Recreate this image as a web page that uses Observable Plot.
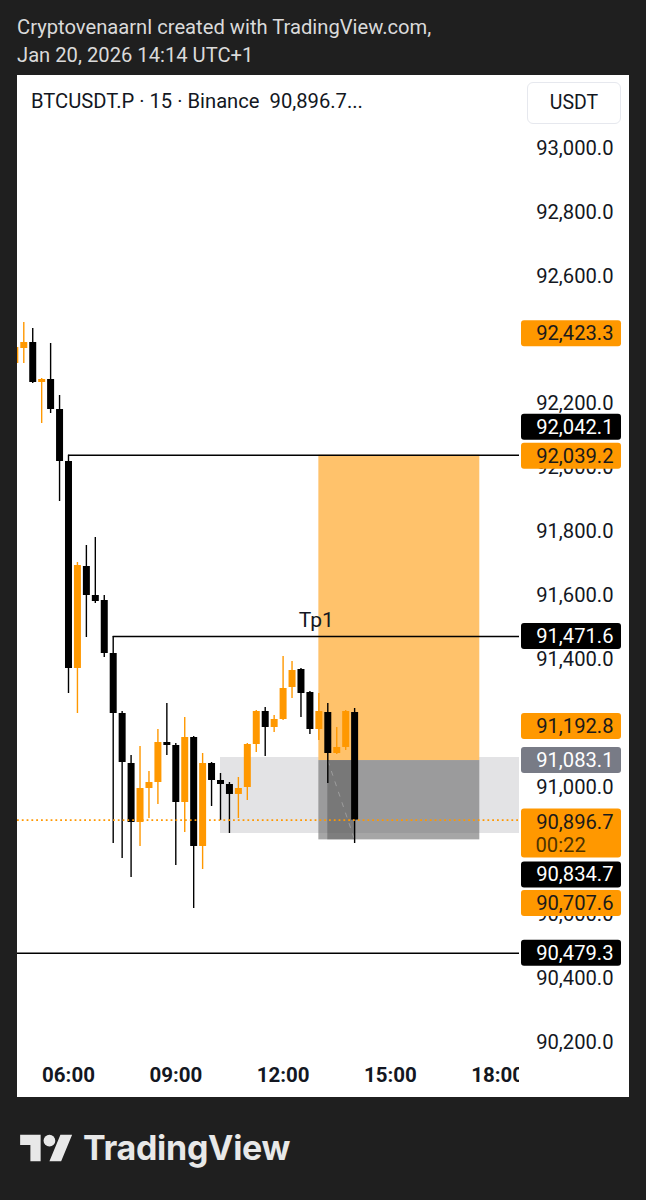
<!DOCTYPE html>
<html><head><meta charset="utf-8">
<script src="https://cdn.jsdelivr.net/npm/d3@7"></script>
<script src="https://cdn.jsdelivr.net/npm/@observablehq/plot@0.6"></script>
<style>
html,body{margin:0;padding:0;background:#1f1f1f;}
body{width:646px;height:1200px;position:relative;overflow:hidden;font-family:Roboto,"Noto Sans",sans-serif;}
#credit{position:absolute;left:17px;top:13px;color:#dadada;font-size:20.2px;line-height:28px;}
#panel{position:absolute;left:17px;top:75px;width:612px;height:1022px;background:#fff;}
#chart{position:absolute;left:0;top:0;width:502px;height:1022px;overflow:hidden;}
#scale{position:absolute;left:502px;top:0;width:110px;height:1022px;overflow:hidden;}
#legend{position:absolute;left:14px;top:13px;font-size:20.2px;color:#131722;white-space:pre;line-height:26px;}
#unit{position:absolute;left:510px;top:7px;width:92px;height:40px;border:1px solid #e6e8ee;border-radius:6px;background:#fff;font-size:19.5px;color:#131722;text-align:center;line-height:40px;}
#brand{position:absolute;left:20px;top:1129px;height:41px;}
#brandText{position:absolute;left:83px;top:1127px;font-family:Inter,Roboto,sans-serif;font-weight:700;font-size:34px;color:#e8e8e8;letter-spacing:-0.3px;line-height:42px;}
</style></head>
<body>
<div id="credit">Cryptovenaarnl created with TradingView.com,<br>Jan 20, 2026 14:14 UTC+1</div>
<div id="panel">
  <div id="chart"></div>
  <div id="scale"></div>
  <div id="legend">BTCUSDT.P · 15 · Binance  90,896.7...</div>
  <div id="unit">USDT</div>
</div>
<svg id="brand" width="53" height="41" viewBox="0 0 36 28"><g fill="#e8e8e8"><path d="M14 22H7V11H0V4h14v18zM28 22h-8l7.5-18h8L28 22z"/><circle cx="20" cy="8" r="4"/></g></svg>
<div id="brandText">TradingView</div>
<script>
// ---- data (15-minute candles, Jan 20 2026, UTC+1 clock) ----
const times = ["04:30","04:45","05:00","05:15","05:30","05:45","06:00","06:15","06:30","06:45","07:00","07:15","07:30","07:45","08:00","08:15","08:30","08:45","09:00","09:15","09:30","09:45","10:00","10:15","10:30","10:45","11:00","11:15","11:30","11:45","12:00","12:15","12:30","12:45","13:00","13:15","13:30","13:45","14:00"];
const open  = [92326.7,92373.6,92392.4,92267.2,92276.6,92182.6,92019.7,91371.5,91690.9,91600.1,91584.4,91418.4,91230.5,91073.9,90889.2,90995.6,91014.4,91139.7,91130.3,90951.8,91155.4,90814.0,91073.9,91020.7,91008.2,90976.9,90998.8,91133.4,91236.8,91186.7,91211.7,91311.9,91368.3,91296.3,91180.4,91233.7,91105.3,91124.1,91233.7];
const high  = [92398.7,92455.1,92436.3,92279.7,92389.3,92226.4,92039.2,91703.4,91756.7,91781.7,91600.1,91471.6,91236.8,91099.0,91127.2,91048.9,91180.4,91261.9,91136.6,91218.0,91158.5,91105.3,91077.1,91042.6,91014.4,91030.1,91136.6,91239.9,91249.4,91224.3,91409.0,91393.4,91371.5,91299.4,91293.2,91261.9,91186.7,91239.9,91246.2];
const low   = [92317.3,92326.7,92264.0,92138.8,92170.1,91894.5,91293.2,91230.5,91468.5,91575.0,91405.9,90823.4,90776.4,90716.9,90814.0,90901.7,90945.5,91099.0,90754.5,90857.8,90619.8,90742.0,90939.3,90895.4,90854.7,90901.7,90958.1,91108.4,91095.9,91171.0,91208.6,91277.5,91218.0,91164.8,91146.0,91011.3,91102.2,91114.7,90823.4];
const close = [92376.8,92392.4,92267.2,92276.6,92182.6,92019.7,91371.5,91694.0,91600.1,91581.3,91418.4,91230.5,91077.1,90889.2,90995.6,91014.4,91139.7,91130.3,90951.8,91155.4,90814.0,91073.9,91020.7,91008.2,90976.9,90995.6,91133.4,91236.8,91186.7,91211.7,91308.8,91365.2,91293.2,91180.4,91236.8,91105.3,91124.1,91236.8,90896.7];

// visible range of the chart
const viewTime  = ["04:34:27","18:36:36"];
const viewPrice = [90159.4, 93228.6];
const timeTicks = ["06:00","09:00","12:00","15:00","18:00"];
const priceTicks = [90200,90400,90600,90800,91000,91200,91400,91600,91800,92000,92200,92400,92600,92800,93000];

// drawings
const levelLines = [ {price: 92039.2, from: "06:00"}, {price: 91471.6, from: "07:15", note: "Tp1"}, {price: 90479.3, from: null} ];
const rangeBox   = {from: "10:15", low: 90854.7, high: 91092.7};
const position   = {from: "13:00", to: "17:30", entry: 91083.1, target: 92039.2, stop: 90834.7, openAt: "13:15", now: "14:00"};
const lastPrice  = 90896.7;
const countdown  = "00:22";

// price-scale labels
const labelValues = [92423.3, 92042.1, 92039.2, 91471.6, 91192.8, 91083.1, 90896.7, 90834.7, 90707.6, 90479.3];
const labelKinds  = ["orange","black","orange","black","orange","gray","orange","black","orange","black"];
const labelNudge  = [1, -27, 1, 0, 1, 0, 2, 35, 23, 0]; // px shift to avoid overlap (layout)

// ---- helpers ----
const T = s => { const [h,m,sec=0] = s.split(":").map(Number); return new Date(Date.UTC(2026,0,20,h,m,sec)); };
const ORANGE = "#ff9800", BLACK = "#000000", INK = "#131722";
const fmt = d3.format(",.1f");
const H = 1022, MB = 42;
const pxPerUnit = (H - MB) / (viewPrice[1] - viewPrice[0]);
const px = n => n / pxPerUnit;
const x0 = T(viewTime[0]), x1 = T(viewTime[1]);

const candles = times.map((t,i) => ({t: T(t), o: open[i], h: high[i], l: low[i], c: close[i], col: close[i] >= open[i] ? ORANGE : BLACK}));
const lines = levelLines.map(d => ({y: d.price, x1: d.from ? T(d.from) : x0, x2: x1, note: d.note}));
const notes = lines.filter(d => d.note).map(d => ({...d, xm: new Date((+d.x1 + +d.x2) / 2)}));

const baseStyle = {fontFamily: "Roboto, sans-serif", fontSize: "20px", color: INK, background: "transparent", overflow: "visible"};

const chart = Plot.plot({
  width: 502, height: H,
  marginTop: 0, marginRight: 0, marginBottom: MB, marginLeft: 0,
  style: baseStyle,
  x: {type: "utc", domain: [x0, x1], axis: null},
  y: {domain: viewPrice, axis: null},
  color: {type: "identity"},
  marks: [
    Plot.rect([rangeBox], {x1: d => T(d.from), x2: () => x1, y1: "low", y2: "high", fill: "#e3e3e5"}),
    Plot.rect([position], {x1: d => T(d.from), x2: d => T(d.to), y1: "entry", y2: "target", fill: "#ffc26b"}),
    Plot.rect([position], {x1: d => T(d.from), x2: d => T(d.to), y1: "stop", y2: "entry", fill: "#6f6f6f", fillOpacity: 0.62}),
    Plot.rect([position], {x1: d => T(d.openAt), x2: d => T(d.now), y1: "stop", y2: "entry", fill: "#444", fillOpacity: 0.4}),
    Plot.link([position], {x1: d => T(d.openAt), y1: "entry", x2: d => T(d.now), y2: "stop", stroke: "#e0e0e0", strokeOpacity: 0.35, strokeDasharray: "5,6", strokeWidth: 1}),
    Plot.ruleY(lines, {y: "y", x1: "x1", x2: "x2", stroke: BLACK, strokeWidth: 1.5}),
    Plot.ruleX(candles, {x: "t", y1: "l", y2: "h", stroke: "col", strokeWidth: 1.4}),
    Plot.ruleX(candles, {x: "t", y1: "o", y2: "c", stroke: "col", strokeWidth: 7}),
    Plot.ruleY([lastPrice], {y: d => d, stroke: ORANGE, strokeWidth: 1.6, strokeDasharray: "1.8,3"}),
    Plot.text(notes, {x: "xm", y: "y", text: "note", dy: -16, fontSize: 21, fill: INK}),
    Plot.text(timeTicks, {x: d => T(d), text: d => d, frameAnchor: "bottom", dy: 20, lineAnchor: "middle", fontSize: 20.5, fontWeight: "bold", fill: INK})
  ]
});
document.getElementById("chart").appendChild(chart);

const labels = labelValues.map((v,i) => {
  const kind = labelKinds[i];
  const c = v - px(labelNudge[i]);
  const extra = v === lastPrice ? 23 : 0;
  return {v, c, text: fmt(v), kind,
    top: c + px(13), bottom: c - px(13 + extra),
    bg: kind === "orange" ? ORANGE : kind === "gray" ? "#787b86" : BLACK,
    fg: kind === "orange" ? "#1a1a1a" : "#ffffff",
    sub: extra ? countdown : null, subY: c - px(23)};
});
// tick labels completely covered by a price label are not drawn
const visibleTicks = priceTicks.filter(t => !labels.some(l => t + px(6) <= l.top && t - px(6) >= l.bottom));

const scale = Plot.plot({
  width: 110, height: H,
  marginTop: 0, marginRight: 0, marginBottom: MB, marginLeft: 0,
  style: baseStyle,
  y: {domain: viewPrice, axis: null},
  color: {type: "identity"},
  marks: [
    Plot.text(visibleTicks, {y: d => d, text: d => fmt(d), frameAnchor: "right", dx: -16, textAnchor: "end", lineAnchor: "middle", fontSize: 20.2, fill: INK}),
    Plot.rect(labels, {y1: "bottom", y2: "top", fill: "bg", insetLeft: 2, insetRight: 8, rx: 3}),
    Plot.text(labels, {y: "c", text: "text", fill: "fg", frameAnchor: "right", dx: -16, textAnchor: "end", lineAnchor: "middle", fontSize: 20.2}),
    Plot.text(labels.filter(d => d.sub), {y: "subY", text: "sub", fill: "#4d3300", frameAnchor: "left", dx: 16, textAnchor: "start", lineAnchor: "middle", fontSize: 20.2})
  ]
});
document.getElementById("scale").appendChild(scale);
</script>
</body></html>
